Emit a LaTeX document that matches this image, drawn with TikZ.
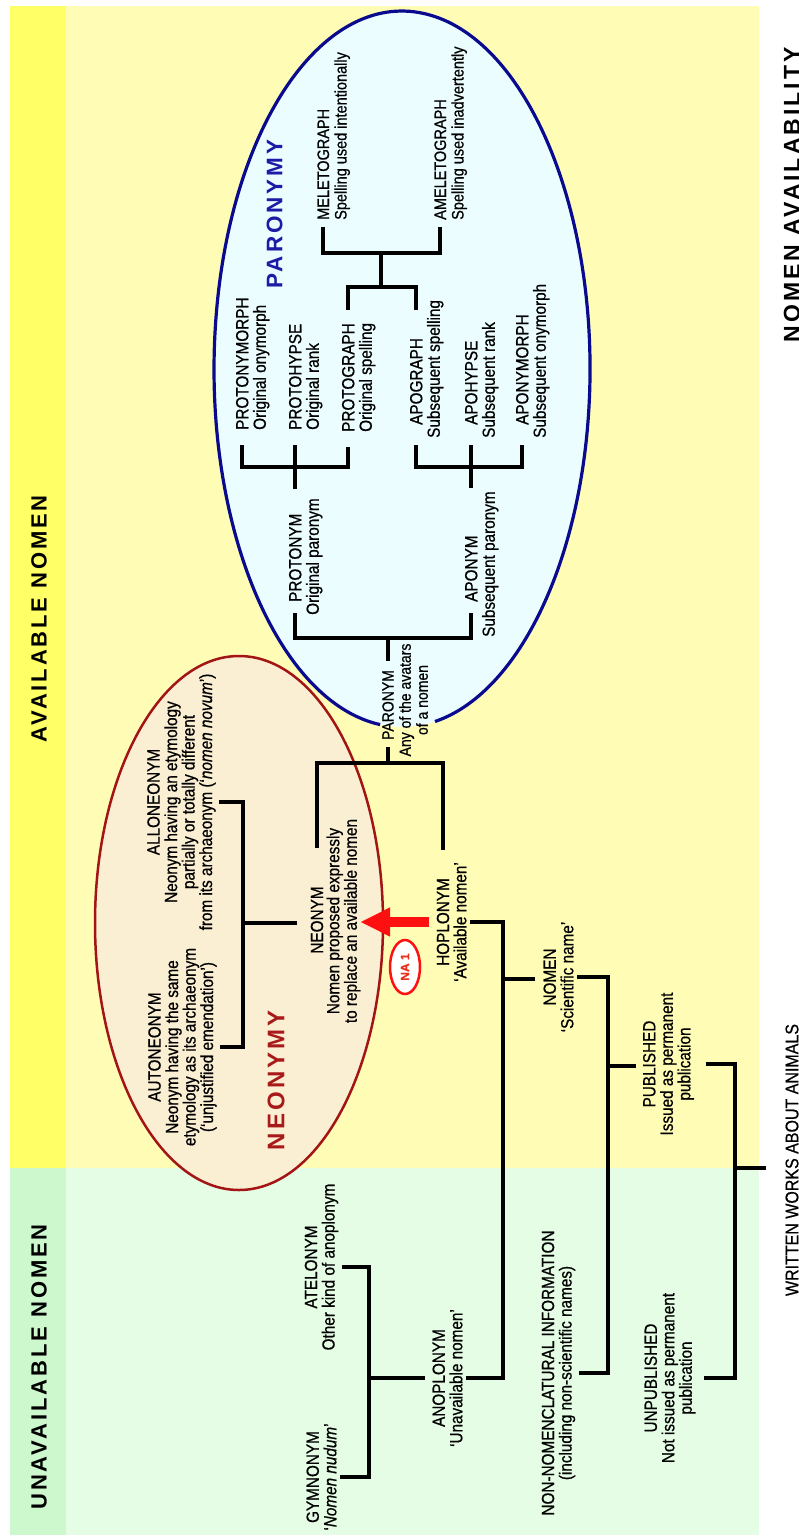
\documentclass[tikz,border=0pt]{standalone}
\usepackage{fontspec}
\setmainfont{Liberation Sans}[FakeBold=0.7]
\newfontfamily\hdrfam[LetterSpace=13]{Liberation Sans}
\usetikzlibrary{shapes.geometric,arrows.meta}
\definecolor{ybright}{HTML}{FFFF66}
\definecolor{ypale}{HTML}{FFFCB6}
\definecolor{gbright}{HTML}{CDF7CD}
\definecolor{gpale}{HTML}{E5FCE5}
\definecolor{paroFill}{HTML}{ECFDFF}
\definecolor{paroLine}{HTML}{0A0A8F}
\definecolor{neoFill}{HTML}{FBEFD3}
\definecolor{neoLine}{HTML}{A31515}
\definecolor{paroText}{HTML}{1B1BA6}
\definecolor{neoText}{HTML}{A81A1A}
\definecolor{arrowRed}{HTML}{FF1010}
\definecolor{naText}{HTML}{E8321E}
\newcommand\lblsize{\fontsize{15.3}{15.2}\selectfont}
\newcommand\melesize{\fontsize{14.5}{15.2}\selectfont}
\newcommand\parsize{\fontsize{14}{14.8}\selectfont}
\newcommand\writsize{\fontsize{16}{18}\selectfont}
\begin{document}
\begin{tikzpicture}[x=1pt,y=-1pt,
  tree/.style={line width=3.6pt, line join=miter},
  lbl/.style={rotate=90, yscale=1.15, font=\lblsize, inner sep=3pt, align=center},
  lft/.style={rotate=90, yscale=1.15, font=\lblsize, inner sep=0pt, anchor=base west},
  hdr/.style={rotate=90, inner sep=0pt, font=\hdrfam\bfseries\fontsize{22}{26}\selectfont},
  redarr/.style={draw=arrowRed, line width=10pt, -{Triangle[length=30pt,width=27pt]}},
  na/.style={ellipse, rotate=90, draw=arrowRed, line width=2.5pt, fill=white, text=naText,
     minimum width=54pt, minimum height=30pt, inner sep=0pt, font=\fontsize{12}{14}\selectfont\bfseries}]
\useasboundingbox (0,0) rectangle (799,1538);
% backgrounds
\fill[ybright] (10,6) rectangle (66,1168);
\fill[ypale] (66,6) rectangle (759,1168);
\fill[gbright] (10,1168) rectangle (66,1535);
\fill[gpale] (66,1168) rectangle (759,1535);
% ellipses
\fill[neoFill] (239,923) ellipse [x radius=144, y radius=267];
\draw[neoLine, line width=2.5pt] (239,923) ellipse [x radius=144, y radius=267];
\fill[paroFill] (402,369) ellipse [x radius=188, y radius=358];
\draw[paroLine, line width=3.2pt] (380.1,724.6) arc[start angle=96.7, end angle=439.9, x radius=188, y radius=358];
% headers
\node[hdr] (avail) at (39,619) {AVAILABLE NOMEN};
\node[hdr] (unavail) at (39,1367) {UNAVAILABLE NOMEN};
\node[hdr, font=\hdrfam\bfseries\fontsize{23}{27}\selectfont] (title) at (792,195) {NOMEN AVAILABILITY};
\node[hdr, text=paroText, font=\hdrfam\bfseries\fontsize{22.5}{27}\selectfont] (paronymy) at (274.5,214) {PARONYMY};
\node[hdr, text=neoText, font=\hdrfam\bfseries\fontsize{24}{28}\selectfont] (neonymy) at (276,1080) {NEONYMY};
% paronymy labels
\node[lft, font=\melesize] (mele1) at (329,220) {MELETOGRAPH};
\node[lft, font=\melesize] (mele2) at (346.5,220) {Spelling used intentionally};
\node[lft, font=\melesize] (amele1) at (446,220) {AMELETOGRAPH};
\node[lft, font=\melesize] (amele2) at (463.5,220) {Spelling used inadvertently};
\node[lft] (pnm1) at (248.3,430) {PROTONYMORPH};
\node[lft] (pnm2) at (265.8,430) {Original onymorph};
\node[lft] (phy1) at (301.3,430) {PROTOHYPSE};
\node[lft] (phy2) at (318.8,430) {Original rank};
\node[lft] (pgr1) at (354.3,432) {PROTOGRAPH};
\node[lft] (pgr2) at (371.8,432) {Original spelling};
\node[lft] (agr1) at (422.3,425) {APOGRAPH};
\node[lft] (agr2) at (439.8,438) {Subsequent spelling};
\node[lft] (ahy1) at (477.3,425) {APOHYPSE};
\node[lft] (ahy2) at (494.8,438) {Subsequent rank};
\node[lft] (anm1) at (528.3,425) {APONYMORPH};
\node[lft] (anm2) at (545.8,438) {Subsequent onymorph};
\node[lft] (pn1) at (301.3,602) {PROTONYM};
\node[lft] (pn2) at (318.8,615) {Original paronym};
\node[lft] (an1) at (477.3,602) {APONYM};
\node[lft] (an2) at (494.8,637) {Subsequent paronym};
\node[lbl, font=\parsize] (par1) at (388,705) {PARONYM};
\node[lbl, font=\parsize] (par2) at (413.5,700) {Any of the avatars\\of a nomen};
% neonymy labels
\node[lbl] (allo) at (181.5,802) {ALLONEONYM\\Neonym having an etymology\\partially or totally different\\from its archaeonym (‘\textit{nomen novum}’)};
\node[lbl] (auto) at (182.5,1047) {AUTONEONYM\\Neonym having the same\\etymology as its archaeonym\\(‘unjustified emendation’)};
\node[lbl] (neo1) at (317,920) {NEONYM};
\node[lbl] (neo2) at (343.5,921) {Nomen proposed expressly\\to replace an available nomen};
\node[lbl] (hop1) at (443,922) {HOPLONYM};
\node[lbl] (hop2) at (460,922) {‘Available nomen’};
\node[lbl] (nom) at (558.5,977) {NOMEN\\‘Scientific name’};
\node[lbl] (pub) at (668.5,1064) {PUBLISHED\\Issued as permanent\\publication};
\node[lbl] (atel) at (321.5,1267) {ATELONYM\\Other kind of anoplonym};
\node[lbl] (gym) at (321.5,1477) {GYMNONYM\\‘\textit{Nomen nudum}’};
\node[lbl] (anop) at (447.5,1378) {ANOPLONYM\\‘Unavailable nomen’};
\node[lbl] (nonnom) at (558.5,1373) {NON-NOMENCLATURAL INFORMATION\\(including non-scientific names)};
\node[lbl] (unpub) at (670,1378) {UNPUBLISHED\\Not issued as permanent\\publication};
\node[lbl, font=\writsize] (written) at (792,1160) {WRITTEN WORKS ABOUT ANIMALS};
% joints
\coordinate (jm) at (381,253);
\coordinate (jg) at (381,287);
\coordinate (jp) at (295,467);
\coordinate (ja) at (471,467);
\coordinate (jpar) at (388,638);
\coordinate (jlow) at (388,763);
\coordinate (jn) at (243,923);
\coordinate (jh) at (503,979);
\coordinate (jn2) at (608,1066);
\coordinate (jw) at (735,1168);
\coordinate (jan) at (369,1378);
% connectors
\draw[tree, shorten <=7pt, shorten >=7pt] (mele1.west) |- (jm) -| (amele1.west);
\draw[tree] (jm) -- (jg);
\draw[tree, shorten <=13pt, shorten >=28pt] (pgr1.east) |- (jg) -| (agr1.east);
\draw[tree, shorten <=15pt, shorten >=15pt] (pnm1.west) |- (jp) -| (pgr1.west);
\draw[tree, shorten <=15pt, shorten >=24pt] (phy1.west) -- (pn1.east);
\draw[tree, shorten <=20pt, shorten >=20pt] (agr1.west) |- (ja) -| (anm1.west);
\draw[tree, shorten <=20pt, shorten >=47pt] (ahy1.west) -- (an1.east);
\draw[tree, shorten <=11pt, shorten >=11pt] (pn1.west) |- (jpar) -| (an1.west);
\draw[tree, shorten >=6pt] (jpar) -- (par1.east);
\draw[tree, shorten <=35pt, shorten >=25pt] (neo1.east) |- (jlow) -| (hop1.east);
\draw[tree, shorten >=4pt] (jlow) -- (par1.west);
\draw[tree] (allo.south) -| (jn) |- (auto.south);
\draw[tree, shorten >=10pt] (jn) -- (jn -| neo1.north);
\draw[tree] (hop2.south) -| (jh) |- (anop.south);
\draw[tree, shorten >=5pt] (jh) -- (jh -| nom.north);
\draw[tree] (nom.south) -| (jn2) |- (nonnom.south);
\draw[tree, shorten >=3pt] (jn2) -- (jn2 -| pub.north);
\draw[tree, shorten <=8pt, shorten >=5pt] (pub.south) -| (jw) |- (unpub.south);
\draw[tree, shorten >=16pt] (jw) -- (jw -| written.north);
\draw[tree] (atel.south) -| (jan) |- (gym.south);
\draw[tree, shorten >=4pt] (jan) -- (jan -| anop.north);
% red arrow and NA 1
\draw[redarr, shorten <=4pt, shorten >=-4pt] (hop1.north) -- (hop1.north -| neo2.south);
\node[na] (na1) at (405,967) {NA 1};
\end{tikzpicture}
\end{document}
